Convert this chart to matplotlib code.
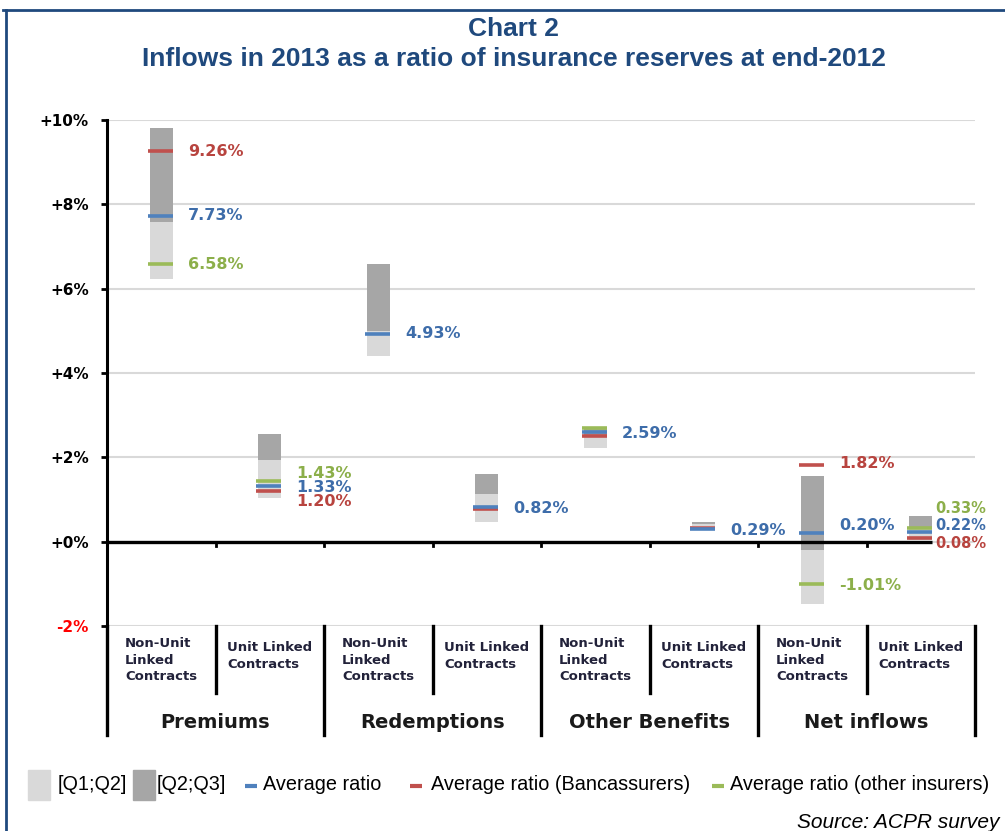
import numpy as np
import matplotlib.pyplot as plt
import matplotlib.transforms as mtransforms
from matplotlib.patches import Rectangle
from matplotlib.lines import Line2D

# données (en %)
groups = ["Premiums", "Redemptions", "Other Benefits", "Net inflows"]
sub_labels = ["Non-Unit\nLinked\nContracts", "Unit Linked\nContracts"]
q1 = [6.23, 1.04, 4.41, 0.46, 2.22, 0.38, -1.49, 0.05]
q2 = [7.59, 1.94, 5.00, 1.13, 2.50, 0.43, -0.19, 0.35]
q3 = [9.81, 2.56, 6.59, 1.60, 2.72, 0.47, 1.56, 0.61]
avg = [7.73, 1.33, 4.93, 0.82, 2.59, 0.29, 0.20, 0.22]
avg_banc = [9.26, 1.20, np.nan, 0.78, 2.50, 0.33, 1.82, 0.08]
avg_other = [6.58, 1.43, np.nan, np.nan, 2.69, np.nan, -1.01, 0.33]
yticks = [-2, 0, 2, 4, 6, 8, 10]
ytick_labels = ["-2%", "+0%", "+2%", "+4%", "+6%", "+8%", "+10%"]

# couleurs
light = "#D9D9D9"
dark = "#A6A6A6"
blue = "#4F81BD"
red = "#C0504D"
green = "#9BBB59"
navy = "#1F497D"

fig = plt.figure(figsize=(10.05, 8.31), dpi=100)
ax = fig.add_axes([107 / 1005, 1 - 626 / 831, (975 - 107) / 1005, (626 - 120) / 831])

x = np.arange(len(q1)) + 0.5
w = 0.21
q1a, q2a, q3a = np.array(q1), np.array(q2), np.array(q3)
ax.bar(x, q2a - q1a, w, bottom=q1a, color=light, zorder=2)
ax.bar(x, q3a - q2a, w, bottom=q2a, color=dark, zorder=2)

# traits des moyennes
for serie, col in [(avg_other, green), (avg_banc, red), (avg, blue)]:
    v = np.array(serie)
    ok = ~np.isnan(v)
    ax.hlines(v[ok], x[ok] - w / 2 - 0.02, x[ok] + w / 2, colors=col, lw=2.6, zorder=4)

# étiquettes (décalages verticaux quand elles se chevauchent)
decal = {("g", 1): 0.19, ("b", 1): -0.04, ("r", 1): -0.25,
         ("b", 3): -0.03, ("b", 4): -0.03, ("b", 5): -0.03,
         ("b", 6): 0.18, ("r", 6): 0.03, ("g", 6): -0.03,
         ("g", 7): 0.45, ("b", 7): 0.16, ("r", 7): -0.12}
montrer = {"b": range(8), "r": [0, 1, 6, 7], "g": [0, 1, 6, 7]}
for key, serie, col in [("b", avg, "#3E6DAA"), ("r", avg_banc, "#B8443F"), ("g", avg_other, "#8CAF4A")]:
    for i in montrer[key]:
        v = serie[i]
        gap = 2 if i == 7 else 11
        taille = 10.5 if i == 7 else 11.5
        ax.annotate(f"{v:.2f}%", (x[i] + w / 2, v + decal.get((key, i), 0)),
                    xytext=(gap, 0), textcoords="offset points",
                    ha="left", va="center", color=col, fontsize=taille,
                    fontweight="bold", family="DejaVu Sans", zorder=5,
                    annotation_clip=False)

ax.set_xlim(0, 8)
ax.set_ylim(-2, 10)
ax.set_yticks(yticks)
ax.set_yticklabels(ytick_labels, fontsize=11, fontweight="bold", family="DejaVu Sans")
ax.get_yticklabels()[0].set_color("#FF0000")
ax.tick_params(axis="y", length=4, width=2, pad=9)
ax.set_xticks([])
ax.grid(axis="y", color=light, lw=1.5, zorder=0)
ax.set_axisbelow(True)
for s in ["top", "right", "bottom"]:
    ax.spines[s].set_visible(False)
ax.spines["left"].set_linewidth(2.2)
# ligne du zéro : s'arrête au bord de la dernière barre
ax.plot([0, x[-1] + w / 2], [0, 0], color="black", lw=2.4, zorder=3, solid_capstyle="butt")
for d in range(1, 8):
    ax.plot([d, d], [0, -0.1], color="black", lw=2, zorder=3, clip_on=False)

# axe des catégories à deux niveaux
trans = mtransforms.blended_transform_factory(ax.transData, fig.transFigure)
for d in range(9):
    bas = 735 if d % 2 == 0 else 693
    ax.plot([d, d], [1 - 626 / 831, 1 - bas / 831], color="black", lw=2.4,
            transform=trans, clip_on=False)
for i in range(8):
    haut = 637 if i % 2 == 0 else 641
    ax.text(x[i], 1 - haut / 831, sub_labels[i % 2], transform=trans, ha="center",
            va="top", multialignment="left", fontsize=9.5, color="#22223a",
            fontweight="bold", linespacing=1.35, family="DejaVu Sans")
for k, g in enumerate(groups):
    ax.text(2 * k + 1, 1 - 722 / 831, g, transform=trans, ha="center", va="center",
            fontsize=14, fontweight="bold", color="#1a1a1a", family="DejaVu Sans")

# titre
fig.text(0.511, 1 - 29 / 831, "Chart 2", ha="center", va="center", fontsize=19,
         fontweight="bold", color=navy, family="Liberation Sans")
fig.text(0.511, 1 - 59 / 831, "Inflows in 2013 as a ratio of insurance reserves at end-2012",
         ha="center", va="center", fontsize=19, fontweight="bold", color=navy,
         family="Liberation Sans")

# légende (construite à la main pour coller aux espacements)
leg_y = 1 - 785 / 831
items = [("sq", light, 28, 58, "[Q1;Q2]"),
         ("sq", dark, 133, 157, "[Q2;Q3]"),
         ("dash", blue, 245, 263, "Average ratio"),
         ("dash", red, 410, 431, "Average ratio (Bancassurers)"),
         ("dash", green, 712, 730, "Average ratio (other insurers)")]
for kind, col, xh, xt, nom in items:
    if kind == "sq":
        fig.add_artist(Rectangle((xh / 1005, leg_y - 15 / 831), 22 / 1005, 30 / 831,
                                 color=col, transform=fig.transFigure))
    else:
        fig.add_artist(Line2D([xh / 1005, (xh + 12) / 1005], [leg_y - 1 / 831] * 2,
                              color=col, lw=3, solid_capstyle="butt"))
    fig.text(xt / 1005, leg_y, nom, ha="left", va="center", fontsize=14.3,
             family="Liberation Sans")

fig.text(797 / 1005, 1 - 822 / 831, "Source: ACPR survey", ha="left", va="center",
         fontsize=15, style="italic", family="Liberation Sans")

# cadre bleu
fig.add_artist(Line2D([3 / 1005, 1], [1 - 10 / 831, 1 - 10 / 831], color=navy, lw=2))
fig.add_artist(Line2D([6 / 1005, 6 / 1005], [1 - 10 / 831, 0], color=navy, lw=2))

fig.savefig("out.png", dpi=100)
